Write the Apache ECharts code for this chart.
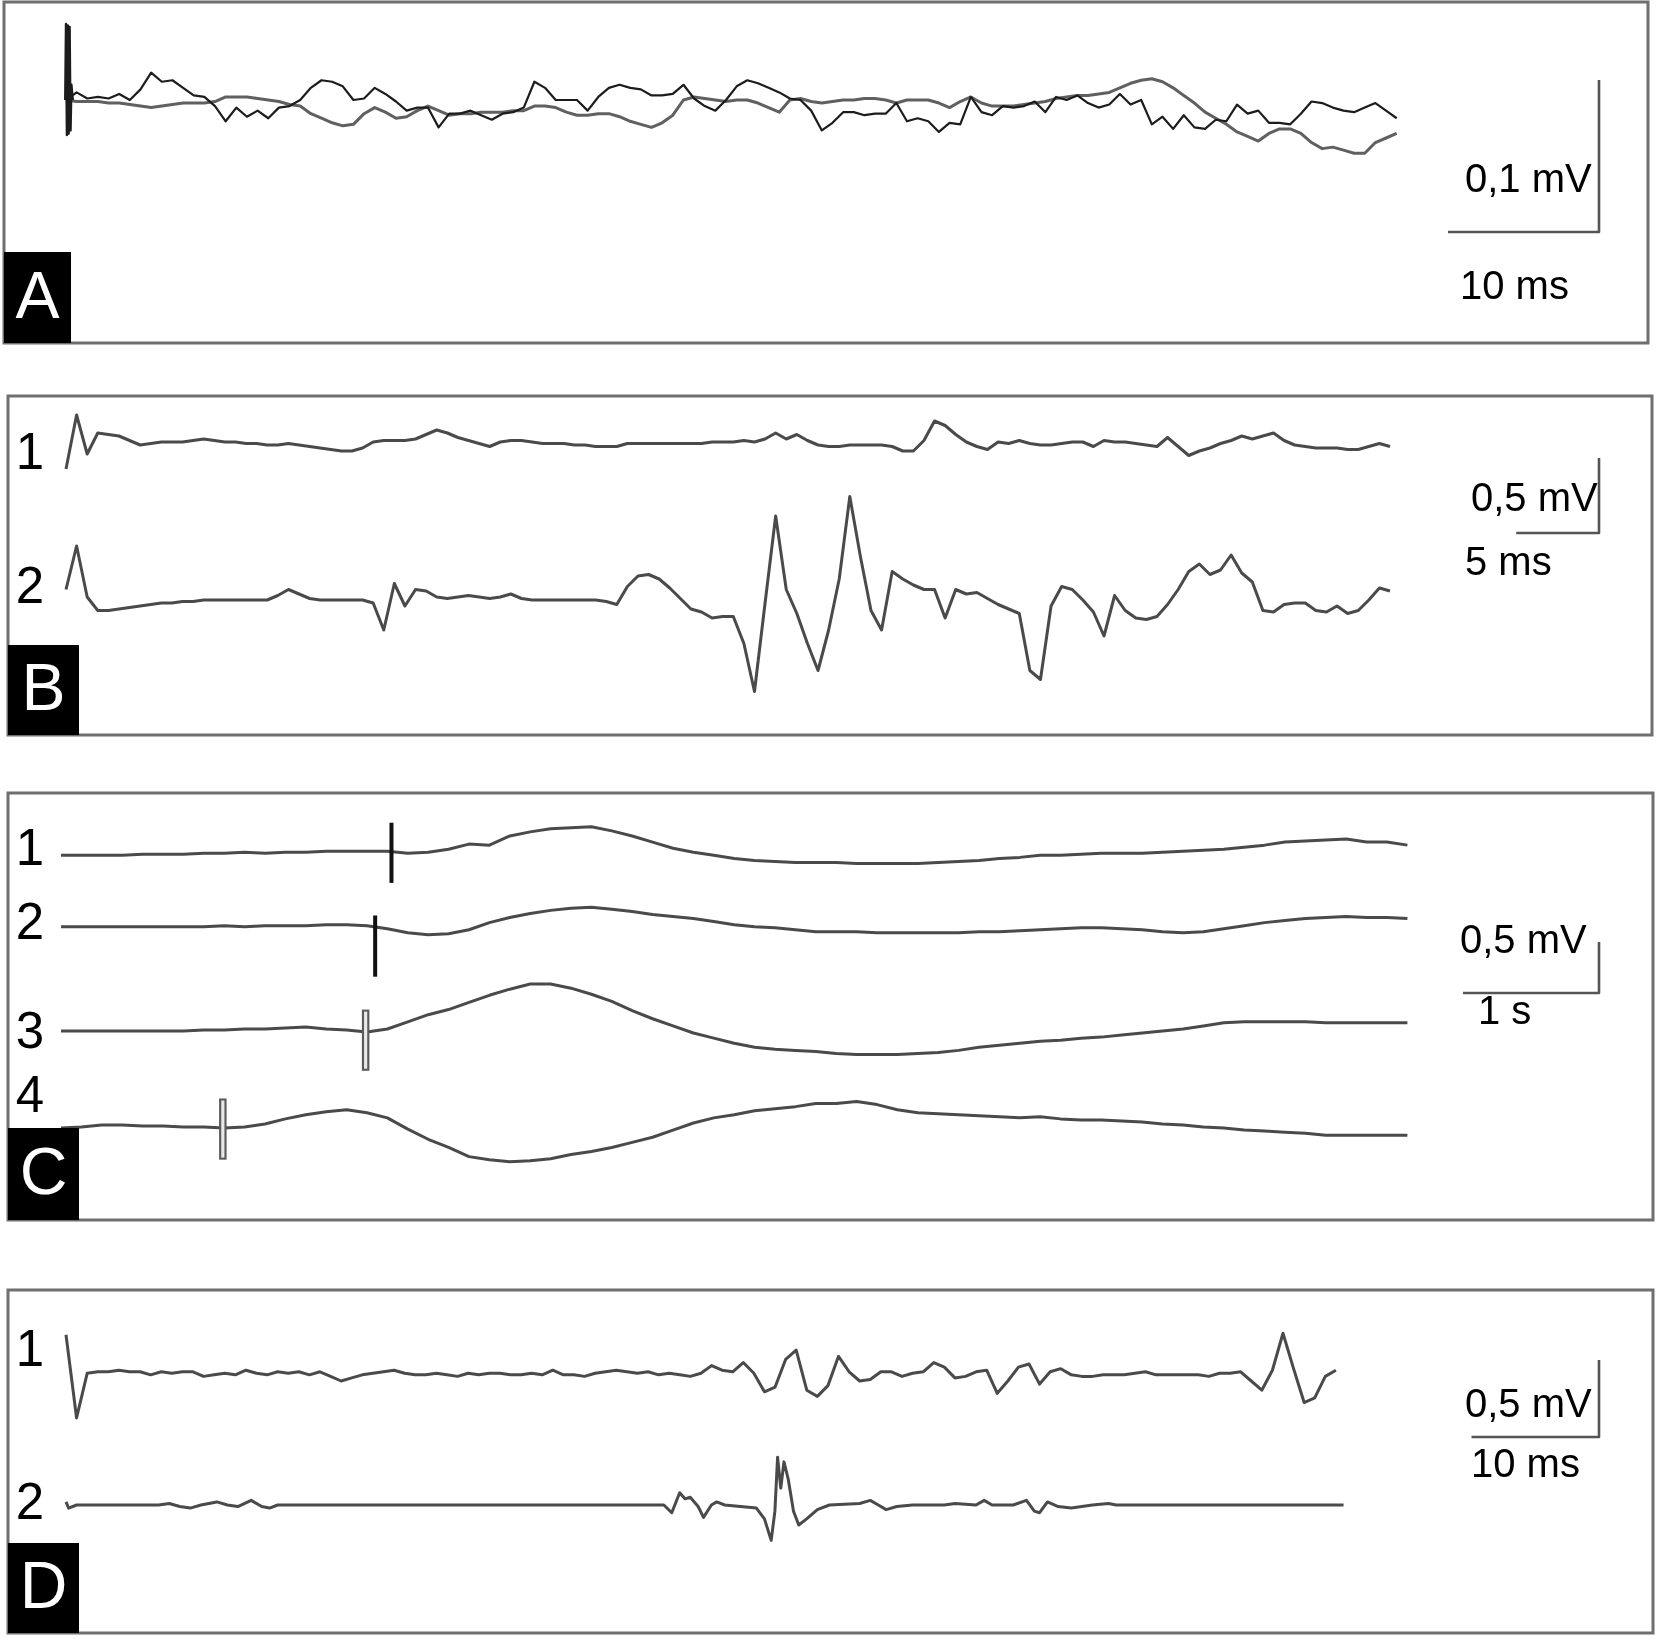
<!DOCTYPE html>
<html>
<head>
<meta charset="utf-8">
<title>EMG traces A-D</title>
<script src="https://cdn.jsdelivr.net/npm/echarts/dist/echarts.min.js"></script>
<style>
    html, body { margin: 0; padding: 0; background: #fff; }
    #chart { width: 1658px; height: 1644px; }
</style>
</head>
<body>
<div id="chart"></div>
<script>
// ---- data ----
// A: two superimposed sweeps, uV, one sample every 0.705 ms
var dtA = 0.705;
var traceA1 = [0,5,1,2,1,4,0,7,18,12, 13,8,3,2,-4,-14,-5,-11,-7,-12, -5,-4,0,8,13,12,9,0,1,8,
    4,-1,-7,-5,-5,-18,-9,-9,-7,-10, -13,-9,-8,-5,12,8,0,0,0,-7, 2,8,10,8,7,3,3,4,10,1,
    -4,-7,0,9,13,11,8,5,1,0, -7,-20,-15,
    -8,-8,-10,-9,-9,-2,-14,-12,-14,-21, -15,-16,2,-8,-10,-4,-5,-4,-1,-8, 2,0,3,-2,-5,-3,4,-3,0,-16,
    -11,-19,-10,-18,-19,-13,-14,-3,-9,-7, -15,-15,-16,-9,-1,-2,-5,-7,-8,-5, -2,-7,-12];
var traceA2 = [0,-1,-1,-1,-2,-2,-3,-4,-5,-4, -3,-2,-2,-2,-1,2,2,2,1,0, -1,-3,-4,-9,-12,-15,-17,-16,-9,-5,
    -8,-12,-11,-7,-4,-7,-10,-9,-9,-8, -8,-8,-7,-7,-4,-4,-5,-8,-10,-10, -9,-9,-11,-14,-16,-18,-15,-10,0,2,
    1,0,-1,0,0,-2,-5,-8,0,1, -1,-2,-1,
    0,0,1,1,0,-2,0,0,0,-2, -5,-1,2,-2,-4,-4,-4,-3,-2,-1, 1,2,3,3,4,5,8,11,13,14,
    12,8,3,-2,-8,-12,-16,-21,-24,-27, -22,-19,-19,-22,-28,-32,-31,-33,-35,-35, -28,-25,-22];
var stimA = [[-0.05,0],[0,50],[0.06,-23],[0.12,49],[0.18,-22],[0.24,48],[0.3,-20],[0.36,10],[0.45,0]];

// B: mV, one sample every 0.64 ms
var dtB = 0.64;
var traceB1 = [-0.16,0.20,-0.06,0.08,0.07,0.06,0.03,0,0.01,0.02, 0.02,0.02,0.03,0.04,0.03,0.02,0.02,0.01,0.01,0,
    0,0.01,0,-0.01,-0.02,-0.03,-0.04,-0.04,-0.02,0.02, 0.03,0.03,0.03,0.04,0.07,0.10,0.08,0.05,0.03,0.01,
    -0.01,0.02,0.03,0.03,0.02,0.01,0.01,0.01,0,0, -0.01,-0.01,-0.01,0.01,0.01,0.01,0.01,0.01,0.01,0.01,
    0.01,0.02,0.02,0.02,0.03,0.02,0.04,0.08,0.04,0.07, 0.03,0,-0.01,
    -0.01,0,0,0,0,-0.01,-0.04,-0.04,0.03,0.16, 0.13,0.07,0.02,-0.01,-0.03,0.02,0.01,0.03,0.01,0,
    0,0.01,0.02,0.02,-0.01,0.03,0.02,0.02,0.01,0, -0.01,0.05,-0.01,-0.07,-0.04,-0.02,0.01,0.03,0.06,0.04,
    0.06,0.08,0.03,0,-0.01,-0.02,-0.02,-0.02,-0.03,-0.03, -0.01,0.01,-0.01];
var traceB2 = [0.07,0.36,0.02,-0.07,-0.07,-0.06,-0.05,-0.04,-0.03,-0.02, -0.02,-0.01,-0.01,0,0,0,0,0,0,0,
    0.03,0.07,0.04,0.01,0,0,0,0,0,-0.02, -0.20,0.11,-0.04,0.07,0.06,0.02,0.01,0.02,0.03,0.02,
    0.01,0.02,0.04,0.01,0,0,0,0,0,0, 0,-0.01,-0.03,0.09,0.16,0.17,0.14,0.08,0.01,-0.06,
    -0.08,-0.12,-0.11,-0.11,-0.29,-0.61,-0.02,0.56,0.07,-0.09, -0.29,-0.47,-0.20,
    0.14,0.69,0.29,-0.07,-0.20,0.19,0.14,0.10,0.07,0.07, -0.12,0.07,0.04,0.05,0.01,-0.03,-0.06,-0.09,-0.47,-0.53,
    -0.04,0.09,0.07,0,-0.08,-0.24,0.03,-0.07,-0.12,-0.13, -0.11,-0.03,0.07,0.19,0.24,0.17,0.20,0.30,0.18,0.12,
    -0.07,-0.08,-0.03,-0.02,-0.02,-0.07,-0.08,-0.04,-0.09,-0.07, 0,0.08,0.06];

// C: mV, one sample every 0.15 s
var dtC = 0.15;
var traceC1 = [-0.02,-0.02,-0.02,-0.02,-0.01,-0.01,-0.01,0,0,0.01, 0,0.01,0.01,0.02,0.02,0.02,0.02,0,0.01,0.04,
    0.09,0.08,0.17,0.21,0.24,0.25,0.26,0.22,0.17,0.11, 0.05,0.01,-0.02,-0.05,-0.07,-0.08,-0.09,-0.09,-0.09,-0.10,
    -0.10,-0.10,-0.10,-0.09,-0.08,-0.07,-0.05,-0.04,-0.02,-0.02, -0.01,0,0,0,0.01,0.02,0.03,0.04,0.06,0.08,
    0.11,0.12,0.13,0.14,0.11,0.11,0.08];
var traceC2 = [0,0,0,0,0,0,0,0,0.01,0, 0.01,0.01,0.01,0.02,0.02,0.01,-0.02,-0.06,-0.08,-0.07,
    -0.03,0.04,0.09,0.13,0.16,0.18,0.19,0.17,0.15,0.12, 0.10,0.08,0.05,0.02,0,-0.01,-0.03,-0.05,-0.05,-0.05,
    -0.06,-0.06,-0.06,-0.06,-0.06,-0.05,-0.05,-0.04,-0.03,-0.02, -0.01,-0.01,-0.02,-0.03,-0.05,-0.06,-0.05,-0.02,0.01,0.04,
    0.06,0.08,0.09,0.10,0.09,0.09,0.08];
var traceC3 = [0,0,0,0,0,0,0,0.01,0.01,0.02, 0.02,0.03,0.04,0.02,0.01,-0.01,0.02,0.09,0.16,0.21,
    0.28,0.35,0.41,0.46,0.46,0.42,0.36,0.29,0.20,0.12, 0.05,-0.02,-0.07,-0.12,-0.16,-0.18,-0.19,-0.20,-0.22,-0.23,
    -0.23,-0.23,-0.22,-0.21,-0.19,-0.16,-0.14,-0.12,-0.10,-0.09, -0.07,-0.06,-0.04,-0.02,0,0.02,0.05,0.08,0.09,0.09,
    0.09,0.09,0.08,0.08,0.08,0.08,0.08];
var traceC4 = [-0.03,-0.02,0,0,-0.01,-0.01,-0.02,-0.02,-0.03,-0.02, 0.01,0.06,0.10,0.13,0.15,0.12,0.07,-0.04,-0.14,-0.22,
    -0.31,-0.34,-0.36,-0.35,-0.33,-0.29,-0.26,-0.22,-0.17,-0.12, -0.05,0.02,0.07,0.10,0.14,0.16,0.18,0.21,0.21,0.23,
    0.20,0.15,0.12,0.11,0.10,0.09,0.08,0.07,0.08,0.06, 0.05,0.05,0.04,0.03,0.01,0,-0.02,-0.03,-0.05,-0.06,
    -0.07,-0.08,-0.10,-0.10,-0.10,-0.10,-0.10];
// stimulus markers on C traces 1-4: time (s), top and bottom (mV)
var markerTimeC = [2.43, 2.31, 2.24, 1.19];
var markerTopC = [0.30, 0.11, 0.21, 0.26];
var markerBottomC = [-0.29, -0.49, -0.39, -0.34];
var markerHollowC = [false, false, true, true];

// D: mV, trace 1 one sample every 0.83 ms, trace 2 as [ms, mV]
var dtD = 0.83;
var traceD1 = [0.25,-0.29,0,0.01,0.01,0.02,0.01,0.01,-0.01,0.01, 0,0.01,0.01,-0.02,-0.01,0,-0.01,0.02,0,-0.01,
    0.01,0,0.01,-0.01,0.01,-0.02,-0.05,-0.03,-0.01,0, 0.01,0.02,0,-0.01,-0.01,0,-0.01,-0.02,0,-0.01,
    0,0,-0.01,-0.01,0,-0.01,0.02,-0.01,-0.01,-0.02, 0,0.01,0.02,0.01,0,0.01,-0.01,0,-0.01,-0.02,
    0,0.05,0.02,0.01,0.07,0,-0.12,-0.09,0.09,0.15, -0.11,-0.15,-0.08,
    0.11,0.01,-0.05,-0.04,0.01,0.01,-0.02,0,0.01,0.07, 0.04,-0.03,-0.02,0.01,0.02,-0.13,-0.05,0.04,0.06,-0.07,
    0.01,0.03,-0.01,-0.02,-0.02,-0.01,-0.01,-0.01,0,0.01, -0.01,-0.01,-0.01,-0.01,-0.01,-0.02,0,0,0.01,-0.05,
    -0.11,0.02,0.26,0.03,-0.19,-0.16,-0.02,0.02];
var traceD2 = [[0,0.02],[0.21,-0.02],[0.83,0],[7.27,0],[8.1,0.01],[8.92,-0.01],[9.75,-0.02],[10.58,0],
    [11.83,0.02],[12.66,0],[13.48,-0.01],[14.52,0.03],[15.35,-0.01],[15.97,-0.02],[16.6,0],[46.89,0],
    [47.51,-0.05],[48.13,0.08],[48.55,0.04],[48.96,0.05],[49.58,-0.01],[50.0,-0.08],[50.62,0],[51.04,0.02],
    [51.66,0],[54.15,-0.02],[54.78,-0.09],[55.31,-0.23],[55.6,-0.04],[55.81,0.31],[56.06,0.11],[56.31,0.28],
    [56.64,0.17],[57.06,-0.04],[57.47,-0.13],[58.09,-0.09],[58.93,-0.03],[59.88,0],[62.25,0.01],[63.08,0.03],
    [63.71,0],[64.33,-0.03],[65.16,-0.01],[66.4,0],[68.89,0],[69.73,0.01],[71.38,0],[72.01,0.03],[72.63,0],
    [73.46,0],[74.29,0],[75.33,0.03],[75.95,-0.04],[76.36,-0.05],[76.98,0.02],[77.81,-0.01],[78.85,-0.02],
    [80.51,0],[81.76,0.01],[82.38,0],[83.41,0],[100.2,0]];

// scale bars, panels A..D
var panelNames = ['A', 'B', 'C', 'D'];
var scaleBarTime = [10, 5, 1, 10];
var scaleBarAmp = [100, 0.5, 0.5, 0.5];
var scaleBarTimeLabel = ['10 ms', '5 ms', '1 s', '10 ms'];
var scaleBarAmpLabel = ['0,1 mV', '0,5 mV', '0,5 mV', '0,5 mV'];

// ---- layout (px) ----
var FONT = '"Liberation Sans", Arial, Helvetica, sans-serif';
var panels = [
    { left: 4, top: 2, right: 1648, bottom: 343, t0: 66, pxX: 15.1, pxY: 1.52,
      corner: [1599, 232], ampText: [1465, 181], timeText: [1460, 288], tag: [4, 252, 67, 91] },
    { left: 8, top: 396, right: 1652, bottom: 735, t0: 66, pxX: 16.55, pxY: 150,
      corner: [1599, 533], ampText: [1471, 500], timeText: [1465, 564], tag: [8, 645, 71, 90] },
    { left: 8, top: 793, right: 1653, bottom: 1220, t0: 61, pxX: 136, pxY: 102,
      corner: [1599, 993], ampText: [1460, 942], timeText: [1478, 1013], tag: [8, 1128, 71, 92] },
    { left: 8, top: 1290, right: 1653, bottom: 1633, t0: 66, pxX: 12.75, pxY: 154,
      corner: [1599, 1437], ampText: [1465, 1406], timeText: [1471, 1466], tag: [8, 1543, 71, 90] }
];

var grids = [], xAxes = [], yAxes = [], series = [], graphics = [];

// one grid per trace: same box as the panel, zero of the y axis on the trace baseline
function addGrid(p, baseY) {
    var gi = grids.length;
    grids.push({ left: p.left, top: p.top, width: p.right - p.left, height: p.bottom - p.top });
    xAxes.push({ type: 'value', gridIndex: gi, show: false,
        min: (p.left - p.t0) / p.pxX, max: (p.right - p.t0) / p.pxX });
    yAxes.push({ type: 'value', gridIndex: gi, show: false,
        min: (baseY - p.bottom) / p.pxY, max: (baseY - p.top) / p.pxY });
    return gi;
}

function uniform(values, dt) {
    return values.map(function (v, i) { return [i * dt, v]; });
}

function lineSeries(gi, data, color, width, z) {
    return {
        type: 'line', xAxisIndex: gi, yAxisIndex: gi, data: data,
        symbol: 'none', showSymbol: false, silent: true, clip: false, animation: false,
        lineStyle: { color: color, width: width, cap: 'butt', join: 'round' }, z: z || 2
    };
}

function addTrace(pi, baseY, data, label, labelY, color, width) {
    var gi = addGrid(panels[pi], baseY);
    series.push(lineSeries(gi, data, color, width));
    if (label) {
        graphics.push({ type: 'text', x: 30, y: labelY, z: 5,
            style: { text: label, fontSize: 51, fontFamily: FONT, fill: '#000',
                textAlign: 'center', textVerticalAlign: 'middle' } });
    }
    return gi;
}

var TRACE = '#4a4a4a';

// A
var gA = addTrace(0, 100, uniform(traceA2, dtA), null, 0, '#606060', 3);
addTrace(0, 100, uniform(traceA1, dtA), null, 0, '#1c1c1c', 2.2);
series.push(lineSeries(gA, stimA, '#1c1c1c', 2.4, 3));

// B
addTrace(1, 445, uniform(traceB1, dtB), '1', 455, TRACE, 3);
addTrace(1, 600, uniform(traceB2, dtB), '2', 589, TRACE, 3);

// C
var cBase = [853.3, 926.7, 1031, 1125];
var cLabelY = [851, 925, 1034, 1098];
[traceC1, traceC2, traceC3, traceC4].forEach(function (tr, i) {
    var gi = addTrace(2, cBase[i], uniform(tr, dtC), String(i + 1), cLabelY[i], TRACE, 3);
    var seg = [[markerTimeC[i], markerTopC[i]], [markerTimeC[i], markerBottomC[i]]];
    if (markerHollowC[i]) {
        series.push(lineSeries(gi, seg, '#5a5a5a', 7.5, 4));
        series.push(lineSeries(gi, seg.map(function (d, k) {
            return [d[0], d[1] + (k === 0 ? -0.02 : 0.02)];
        }), '#e8e8e8', 3.2, 4));
    } else {
        series.push(lineSeries(gi, seg, '#111', 4, 4));
    }
});

// D
addTrace(3, 1373.3, uniform(traceD1, dtD), '1', 1352, TRACE, 3);
addTrace(3, 1505, traceD2, '2', 1505, TRACE, 3);

// frames, letter tags, scale bars
panels.forEach(function (p, i) {
    graphics.push({ type: 'rect', z: 0,
        shape: { x: p.left, y: p.top, width: p.right - p.left, height: p.bottom - p.top },
        style: { fill: 'none', stroke: '#6f6f6f', lineWidth: 3 } });
    graphics.push({ type: 'rect', z: 6,
        shape: { x: p.tag[0], y: p.tag[1], width: p.tag[2], height: p.tag[3] },
        style: { fill: '#000' } });
    graphics.push({ type: 'text', z: 7, x: p.tag[0] + p.tag[2] / 2, y: p.tag[1] + p.tag[3] / 2 + 2,
        style: { text: panelNames[i], fontSize: 66, fontFamily: FONT, fill: '#fff',
            textAlign: 'center', textVerticalAlign: 'middle' } });

    var gi = addGrid(p, p.corner[1]);
    var ct = (p.corner[0] - p.t0) / p.pxX;
    series.push(lineSeries(gi, [[ct - scaleBarTime[i], 0], [ct, 0], [ct, scaleBarAmp[i]]], '#555', 2.6, 3));

    graphics.push({ type: 'text', z: 5, x: p.ampText[0], y: p.ampText[1],
        style: { text: scaleBarAmpLabel[i], fontSize: 40, fontFamily: FONT, fill: '#000',
            textAlign: 'left', textVerticalAlign: 'middle' } });
    graphics.push({ type: 'text', z: 5, x: p.timeText[0], y: p.timeText[1],
        style: { text: scaleBarTimeLabel[i], fontSize: 40, fontFamily: FONT, fill: '#000',
            textAlign: 'left', textVerticalAlign: 'middle' } });
});

var chart = echarts.init(document.getElementById('chart'));
chart.setOption({
    backgroundColor: '#fff',
    animation: false,
    grid: grids,
    xAxis: xAxes,
    yAxis: yAxes,
    series: series,
    graphic: graphics
});
window.addEventListener('resize', chart.resize);
</script>
</body>
</html>
